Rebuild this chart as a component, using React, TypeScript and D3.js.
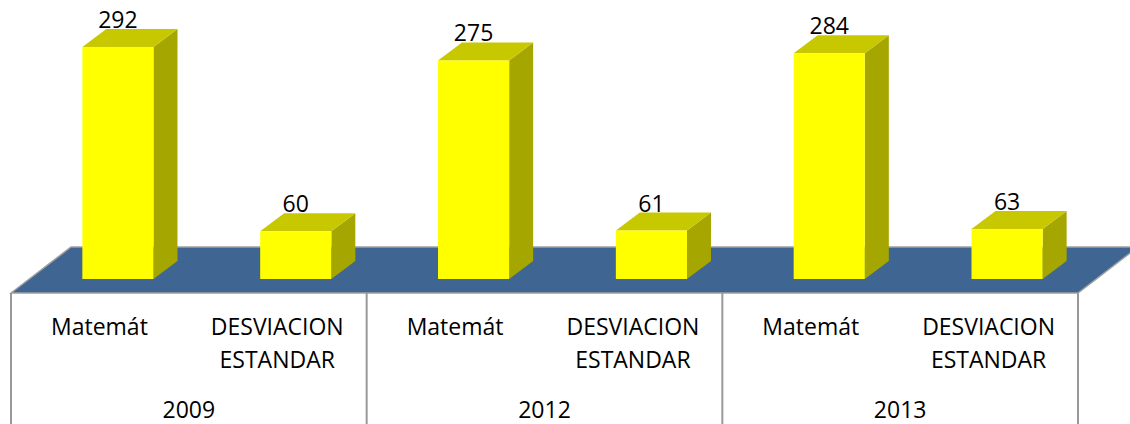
import React from 'react';
import * as d3 from 'd3';

const years = ['2009', '2012', '2013'];
const categories = ['Matemát', 'DESVIACION ESTANDAR'];
const values = [292, 60, 275, 61, 284, 63];

const width = 1130;
const height = 424;
const depthX = 24;
const depthY = 18;
const floorDepthX = 60;
const left = 11;
const right = 1078;
const baseY = 279;
const floorFront = 293;
const floorBack = 247;
const barShift = 18;

const font = '"Open Sans", "Noto Sans", sans-serif';
const fontSize = 23;

const App = () => {
    const ids = d3.range(values.length);

    // bars sit further back on the floor than the labels, so their band is shifted
    const xLabel = d3.scaleBand<number>().domain(ids).range([left, right]);
    const xBar = d3.scaleBand<number>()
        .domain(ids)
        .range([left + barShift, right + barShift])
        .paddingInner(0.6)
        .paddingOuter(0.3);
    const xYear = d3.scaleBand<string>().domain(years).range([left, right]);

    const y = d3.scaleLinear().domain([0, 300]).range([baseY, baseY - 238.4]);

    const line = d3.line();
    const poly = (pts: [number, number][]) => line(pts) + 'Z';

    return (
        <svg
            width={width}
            height={height}
            style={{ position: 'fixed', left: 0, top: 0, display: 'block', background: '#fff' }}
            fontFamily={font}
        >
            <path
                d={poly([
                    [left, floorFront],
                    [left + floorDepthX, floorBack],
                    [right + floorDepthX, floorBack],
                    [right, floorFront],
                ])}
                fill="#3f6592"
                stroke="#a0a0a0"
                strokeWidth={1.5}
            />
            {d3.range(years.length + 1).map(i => {
                const xPos = left + i * xYear.step();
                return (
                    <line key={i} x1={xPos} x2={xPos} y1={floorFront} y2={height} stroke="#999" strokeWidth={2} />
                );
            })}
            {values.map((v, i) => {
                const x0 = xBar(i)!;
                const x1 = x0 + xBar.bandwidth();
                const top = y(v);
                return (
                    <g key={i}>
                        <path
                            d={poly([
                                [x1, top],
                                [x1 + depthX, top - depthY],
                                [x1 + depthX, baseY - depthY],
                                [x1, baseY],
                            ])}
                            fill="#a6a600"
                        />
                        <path
                            d={poly([
                                [x0, top],
                                [x0 + depthX, top - depthY],
                                [x1 + depthX, top - depthY],
                                [x1, top],
                            ])}
                            fill="#c8c800"
                        />
                        <rect x={x0} y={top} width={x1 - x0} height={baseY - top} fill="#ffff00" />
                        <text x={(x0 + x1) / 2} y={top - 19} textAnchor="middle" fontSize={fontSize} fill="#000">
                            {v}
                        </text>
                    </g>
                );
            })}
            {ids.map(i => {
                const cx = xLabel(i)! + xLabel.bandwidth() / 2 - 0.5;
                const words = categories[i % 2].split(' ');
                return (
                    <text key={i} textAnchor="middle" fontSize={fontSize} fill="#000">
                        {words.map((w, j) => (
                            <tspan key={j} x={cx} y={335 + j * 33}>
                                {w}
                            </tspan>
                        ))}
                    </text>
                );
            })}
            {years.map(yr => (
                <text
                    key={yr}
                    x={xYear(yr)! + xYear.bandwidth() / 2}
                    y={418}
                    textAnchor="middle"
                    fontSize={fontSize}
                    fill="#000"
                >
                    {yr}
                </text>
            ))}
        </svg>
    );
};

export default App;
